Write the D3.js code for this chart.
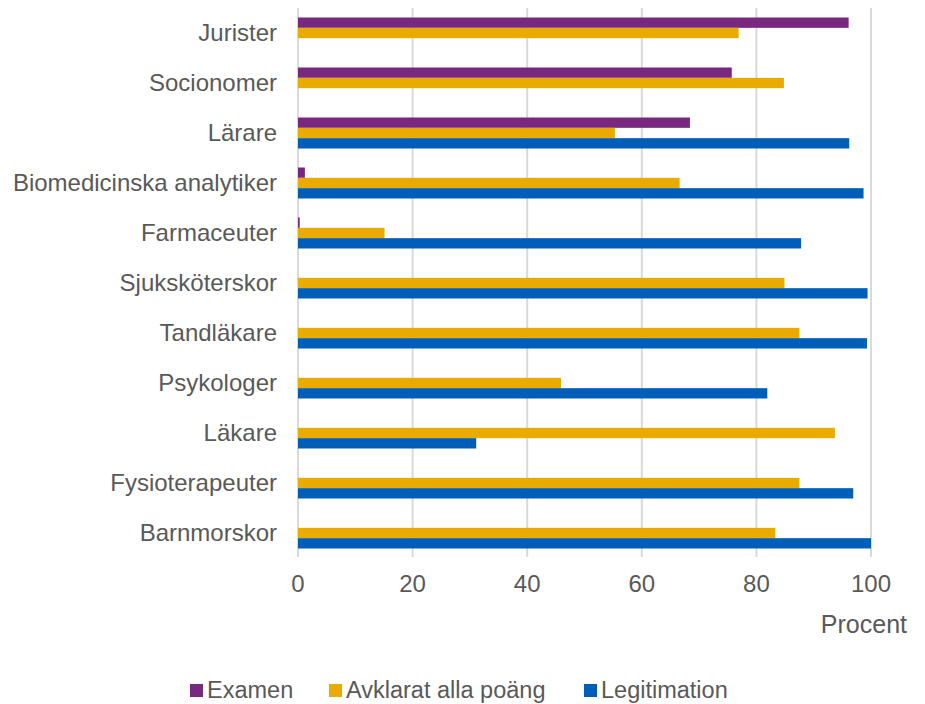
<!DOCTYPE html>
<html>
<head>
<meta charset="utf-8">
<script src="https://cdn.jsdelivr.net/npm/d3@7"></script>
<style>
  body { margin: 0; background: #fff; }
  text { font-family: "Liberation Sans", Arial, sans-serif; fill: #595959; }
</style>
</head>
<body>
<div id="chart"></div>
<script>
const categories = ['Jurister', 'Socionomer', 'Lärare', 'Biomedicinska analytiker', 'Farmaceuter',
    'Sjuksköterskor', 'Tandläkare', 'Psykologer', 'Läkare', 'Fysioterapeuter', 'Barnmorskor'];
const seriesNames = ['Examen', 'Avklarat alla poäng', 'Legitimation'];
const examen = [96.1, 75.7, 68.4, 1.2, 0.3, null, null, null, null, null, null];
const avklarat = [76.9, 84.8, 55.3, 66.6, 15.1, 84.9, 87.5, 45.9, 93.7, 87.5, 83.3];
const legitimation = [null, null, 96.2, 98.7, 87.8, 99.4, 99.3, 81.9, 31.1, 96.9, 100];
const xTicks = [0, 20, 40, 60, 80, 100];
const colors = ['#78287f', '#eaab00', '#005eb8'];

const width = 925, height = 704;
const plot = { left: 298, right: 871, top: 8, bottom: 558 };

const svg = d3.select('#chart').append('svg')
    .attr('width', width)
    .attr('height', height);

const x = d3.scaleLinear().domain([0, 100]).range([plot.left, plot.right]);
const y = d3.scaleBand().domain(categories).range([plot.top, plot.bottom])
    .paddingInner(0.38).paddingOuter(0.19);
const ySub = d3.scaleBand().domain(seriesNames).range([0, y.bandwidth()]);

// gridlines
svg.append('g')
    .selectAll('line')
    .data(xTicks)
    .join('line')
    .attr('x1', d => x(d)).attr('x2', d => x(d))
    .attr('y1', plot.top).attr('y2', plot.bottom - 1)
    .attr('stroke', '#d9d9d9')
    .attr('stroke-width', 2);

// bars
const rows = categories.map((c, i) => ({
    cat: c,
    vals: [examen[i], avklarat[i], legitimation[i]]
}));

const groups = svg.append('g')
    .selectAll('g')
    .data(rows)
    .join('g')
    .attr('transform', d => `translate(0,${y(d.cat)})`);

groups.selectAll('rect')
    .data(d => d.vals.map((v, j) => ({ name: seriesNames[j], v: v, j: j })).filter(e => e.v != null))
    .join('rect')
    .attr('x', x(0))
    .attr('y', d => ySub(d.name))
    .attr('width', d => x(d.v) - x(0))
    .attr('height', ySub.bandwidth())
    .attr('fill', d => colors[d.j]);

// category labels
svg.append('g')
    .selectAll('text')
    .data(categories)
    .join('text')
    .attr('x', 277)
    .attr('y', d => y(d) + y.bandwidth() / 2)
    .attr('dy', '0.35em')
    .attr('text-anchor', 'end')
    .style('font-size', '24px')
    .text(d => d);

// x tick labels
svg.append('g')
    .selectAll('text')
    .data(xTicks)
    .join('text')
    .attr('x', d => x(d))
    .attr('y', 592)
    .attr('text-anchor', 'middle')
    .style('font-size', '24px')
    .text(d => d);

svg.append('text')
    .attr('x', 907)
    .attr('y', 633)
    .attr('text-anchor', 'end')
    .style('font-size', '25px')
    .text('Procent');

// legend
const legendX = [190, 329, 584];
const legend = svg.append('g')
    .selectAll('g')
    .data(seriesNames)
    .join('g')
    .attr('transform', (d, i) => `translate(${legendX[i]},690)`);

legend.append('rect')
    .attr('x', 0).attr('y', -6)
    .attr('width', 13).attr('height', 13)
    .attr('fill', (d, i) => colors[i]);

legend.append('text')
    .attr('x', 17)
    .attr('y', 0)
    .attr('dy', '0.35em')
    .style('font-size', '23.5px')
    .text(d => d);
</script>
</body>
</html>
